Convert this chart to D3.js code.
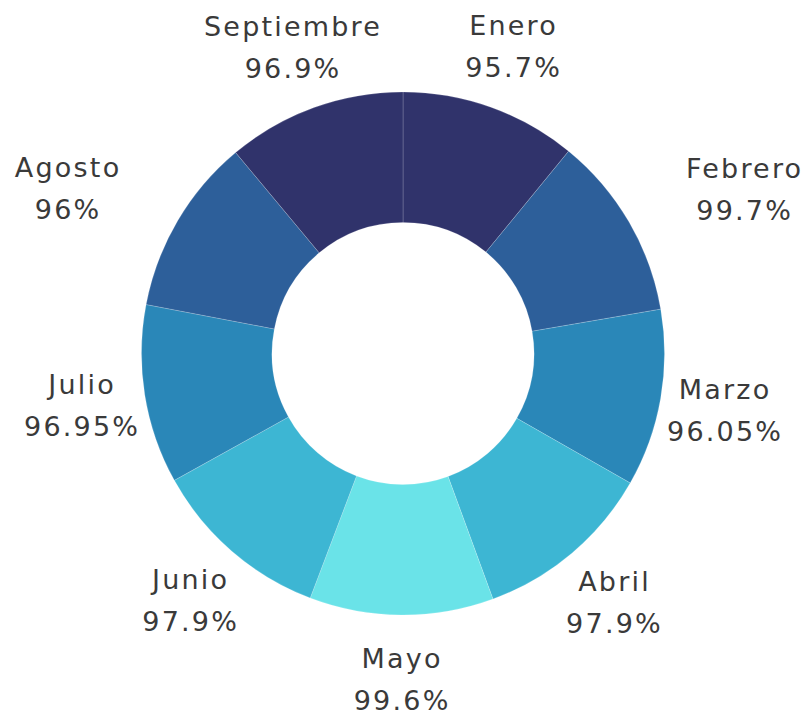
<!DOCTYPE html>
<html>
<head>
<meta charset="utf-8">
<script src="https://cdn.jsdelivr.net/npm/d3@7"></script>
<style>
  body { margin: 0; background: #ffffff; }
  .label { font-family: "DejaVu Sans", sans-serif; font-size: 27px; fill: #3a3a3a; letter-spacing: 2.2px; }
</style>
</head>
<body>
<div id="chart"></div>
<script>
// months and their percentage values, clockwise from 12 o'clock
const months = ["Enero", "Febrero", "Marzo", "Abril", "Mayo", "Junio", "Julio", "Agosto", "Septiembre"];
const values = [95.7, 99.7, 96.05, 97.9, 99.6, 97.9, 96.95, 96, 96.9];
const valueLabels = ["95.7%", "99.7%", "96.05%", "97.9%", "99.6%", "97.9%", "96.95%", "96%", "96.9%"];
const colors = ["#30336b", "#2d5f9a", "#2a87b8", "#3db6d3", "#6ae3e8", "#3db6d3", "#2a87b8", "#2d5f9a", "#30336b"];

const width = 811, height = 717;
const cx = 403, cy = 353.5;
const outerR = 261.5, innerR = 131;
const labelR = 326;

const data = months.map((m, i) => ({ month: m, value: values[i], text: valueLabels[i], color: colors[i] }));

const svg = d3.select("#chart")
  .append("svg")
  .attr("width", width)
  .attr("height", height);

const g = svg.append("g").attr("transform", `translate(${cx},${cy})`);

const pie = d3.pie().value(d => d.value).sort(null);
const arc = d3.arc().innerRadius(innerR).outerRadius(outerR);
const arcs = pie(data);

g.selectAll("path")
  .data(arcs)
  .join("path")
  .attr("d", arc)
  .attr("fill", d => d.data.color)
  .attr("stroke", "#ffffff")
  .attr("stroke-opacity", 0.18)
  .attr("stroke-width", 1);

// labels: centred on the mid angle at labelR
const labels = g.selectAll("g.lab")
  .data(arcs)
  .join("g")
  .attr("class", "lab");

labels.each(function (d) {
  const a = (d.startAngle + d.endAngle) / 2;
  d.lx = labelR * Math.sin(a);
  d.ly = -labelR * Math.cos(a);
  const sel = d3.select(this);
  sel.append("text").attr("class", "label").attr("text-anchor", "middle")
    .attr("x", 1).attr("y", -11).text(d.data.month);
  sel.append("text").attr("class", "label").attr("text-anchor", "middle")
    .attr("x", 1).attr("y", 31).text(d.data.text);
});

// distance from centre to the nearest point of a box
function nearest(b, x, y) {
  const x0 = x + b.x, x1 = x0 + b.width, y0 = y + b.y, y1 = y0 + b.height;
  const nx = Math.max(x0, Math.min(0, x1));
  const ny = Math.max(y0, Math.min(0, y1));
  return Math.hypot(nx, ny);
}

// labels that run into the ring get moved outward horizontally
labels.each(function (d) {
  const b = this.getBBox();
  if (nearest(b, d.lx, d.ly) < outerR) {
    const dir = d.lx >= 0 ? 1 : -1;
    while (nearest(b, d.lx, d.ly) < outerR + 48) d.lx += dir;
  }
  d3.select(this).attr("transform", `translate(${d.lx},${d.ly})`);
});
</script>
</body>
</html>
